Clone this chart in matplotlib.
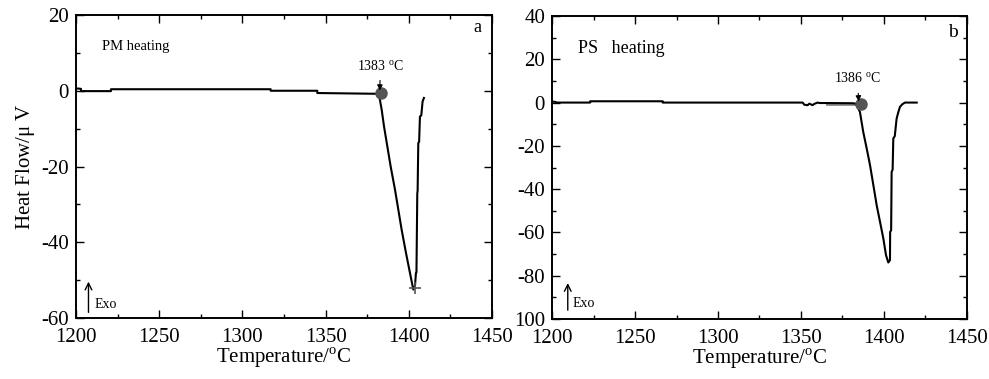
import matplotlib
matplotlib.use("Agg")
import matplotlib.pyplot as plt
from matplotlib.ticker import MultipleLocator, FixedLocator, FixedFormatter

plt.rcParams['font.family'] = ['Liberation Serif', 'DejaVu Serif']
plt.rcParams['mathtext.fontset'] = 'custom'
plt.rcParams['mathtext.rm'] = 'Liberation Serif'
plt.rcParams['axes.unicode_minus'] = False

# ---- panel a: PM heating ----
temp_a = [1200, 1201, 1203, 1203, 1221, 1221, 1317, 1317, 1345, 1345, 1380.7, 1382.3,
          1383.7, 1385.1, 1387.1, 1389.1, 1391.7, 1393.7, 1395.7, 1398.3, 1400.7, 1402.3,
          1402.7, 1403.7, 1404.3, 1404.6, 1405.1, 1405.3, 1405.7, 1406.2, 1406.7, 1407.5,
          1408.3, 1409.1]
flow_a = [0.5, 0.6, 0.5, -0.1, -0.1, 0.4, 0.4, 0.0, 0.0, -0.6, -0.8, -1.6,
          -5.0, -9.4, -14.7, -20.0, -26.1, -31.4, -36.7, -42.8, -48.1, -51.6,
          -52.5, -51.6, -48.1, -48.0, -27.0, -26.5, -13.8, -13.5, -6.8, -6.5,
          -2.8, -1.9]
onset_a = (1383, -0.6)
peak_a = (1403.5, -52.0)

# ---- panel b: PS heating ----
temp_b = [1200, 1202, 1203, 1223, 1223, 1266.7, 1266.7, 1351, 1352, 1354, 1355, 1357,
          1358, 1360, 1361, 1381, 1383.1, 1385.5, 1387.5, 1389.6, 1391.6, 1393.6, 1395.6,
          1397.6, 1399.6, 1401.2, 1402.6, 1403.6, 1403.7, 1404.3, 1404.6, 1405.2, 1405.6,
          1406.5, 1407.6, 1408.6, 1409.6, 1411, 1412.6, 1419.7]
flow_b = [0.5, 0.3, 0.0, 0.0, 0.6, 0.6, 0.0, 0.0, -1.0, -1.2, -0.5, -1.2,
          -0.6, 0.0, -0.2, -0.3, -0.5, -4.3, -13.6, -21.3, -29.0, -38.2, -47.5,
          -55.1, -62.8, -70.5, -73.9, -72.8, -59.8, -59.0, -32.0, -31.0, -16.6,
          -15.5, -7.4, -4.5, -2.0, -0.8, 0.0, 0.0]
tangent_b_t = [1365.5, 1383.5]
tangent_b_f = [-0.7, -0.7]
onset_b = (1386, -0.6)

W, H = 989, 379
fig = plt.figure(figsize=(W / 100, H / 100), dpi=100)
ax1 = fig.add_axes([76 / W, 1 - 318 / H, (492 - 76) / W, (318 - 15) / H])
ax2 = fig.add_axes([552 / W, 1 - 319 / H, (967 - 552) / W, (319 - 16) / H])

for ax in (ax1, ax2):
    ax.set_xlim(1200, 1450)
    ax.xaxis.set_major_locator(MultipleLocator(50))
    ax.xaxis.set_minor_locator(MultipleLocator(25))
    ax.tick_params(which='both', direction='in', top=True, right=True, labelsize=15,
                   width=1.0, colors='black')
    ax.tick_params(which='major', length=6)
    ax.tick_params(axis='x', which='major', pad=7)
    ax.tick_params(axis='y', which='major', pad=5)
    ax.tick_params(which='minor', length=3)
    for s in ax.spines.values():
        s.set_linewidth(1.4)
    ax.set_xlabel('Temperature/$^{\\mathrm{o}}$C', fontsize=15, labelpad=-1)

# panel a
ax1.plot(temp_a, flow_a, color='black', lw=1.5)
ax1.plot(*onset_a, 'o', color='#555555', ms=8, zorder=3)
ax1.plot(*peak_a, '+', color='#555555', ms=8, mew=1.2, zorder=3)
ax1.set_ylim(-60, 20)
ax1.yaxis.set_major_locator(MultipleLocator(20))
ax1.yaxis.set_minor_locator(MultipleLocator(10))
ax1.set_ylabel('Heat Flow/$\\mathrm{\\mu}$ V', fontsize=15, labelpad=3)
ax1.text(0.0625, 0.895, 'PM heating', transform=ax1.transAxes, fontsize=10.5,
         ha='left', va='center')
ax1.text(0.975, 0.96, 'a', transform=ax1.transAxes, fontsize=13, ha='right', va='center')
ax1.annotate('1383 $^{\\mathrm{o}}$C', xy=(onset_a[0] - 0.5, onset_a[1] + 0.3),
             xytext=(1383, 6.5), fontsize=10, ha='center', va='center',
             arrowprops=dict(arrowstyle='-|>', color='black', lw=0.8,
                             shrinkA=3, shrinkB=1, mutation_scale=8))
ax1.annotate('', xy=(1207.5, -50.4), xytext=(1207.5, -58.5),
             arrowprops=dict(arrowstyle='->', color='black', lw=1.0, mutation_scale=12,
                             shrinkA=0, shrinkB=0))
ax1.text(1211.0, -56.5, 'Exo', fontsize=10, ha='left', va='center')

# panel b
ax2.plot(tangent_b_t, tangent_b_f, color='#888888', lw=2.0)
ax2.plot(temp_b, flow_b, color='black', lw=1.5)
ax2.plot(*onset_b, 'o', color='#555555', ms=8, zorder=3)
ax2.set_ylim(-100, 40)
ax2.yaxis.set_major_locator(FixedLocator([-100, -80, -60, -40, -20, 0, 20, 40]))
ax2.yaxis.set_major_formatter(FixedFormatter(['100', '-80', '-60', '-40', '-20', '0', '20', '40']))
ax2.yaxis.set_minor_locator(MultipleLocator(10))
ax2.text(0.063, 0.894, 'PS   heating', transform=ax2.transAxes, fontsize=13,
         ha='left', va='center')
ax2.text(0.966, 0.947, 'b', transform=ax2.transAxes, fontsize=14, ha='center', va='center')
ax2.annotate('1386 $^{\\mathrm{o}}$C', xy=(onset_b[0] - 1.2, onset_b[1] + 0.5),
             xytext=(1384, 10.9), fontsize=10, ha='center', va='center',
             arrowprops=dict(arrowstyle='-|>', color='black', lw=0.8,
                             shrinkA=3, shrinkB=1, mutation_scale=8))
ax2.annotate('', xy=(1209.5, -83.4), xytext=(1209.5, -95.9),
             arrowprops=dict(arrowstyle='->', color='black', lw=1.0, mutation_scale=12,
                             shrinkA=0, shrinkB=0))
ax2.text(1212.5, -93, 'Exo', fontsize=10, ha='left', va='center')

fig.savefig('out.png', dpi=100)
